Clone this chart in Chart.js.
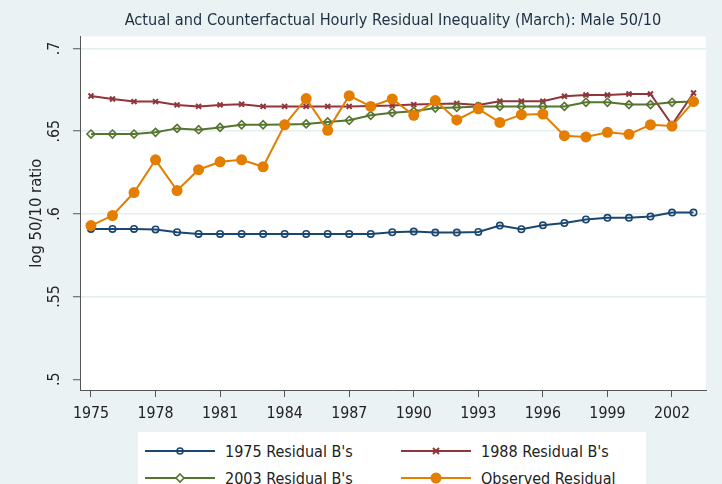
<!DOCTYPE html>
<html>
<head>
<meta charset="utf-8">
<script src="https://cdn.jsdelivr.net/npm/chart.js@4/dist/chart.umd.min.js"></script>
<style>
  html, body { margin: 0; padding: 0; background: #eaf2f3; }
  #wrap { position: relative; width: 722px; height: 484px; overflow: hidden; background: #eaf2f3; }
  #c { position: absolute; left: 0; top: 0; }
  #legend { position: absolute; left: 138px; top: 432px; width: 508px; height: 60px; background: #ffffff;
    font-family: 'Liberation Sans Narrow', 'DejaVu Sans Condensed', 'Arial Narrow', sans-serif; font-size: 16px; color: #222; }
  .item { position: absolute; height: 24px; display: flex; align-items: center; }
  .item svg { display: block; margin-right: 10px; }
</style>
</head>
<body>
<div id="wrap">
  <canvas id="c" width="722" height="484"></canvas>
  <div id="legend"></div>
</div>
<script>
// ---- data ----
const years = [1975,1976,1977,1978,1979,1980,1981,1982,1983,1984,1985,1986,1987,1988,1989,
               1990,1991,1992,1993,1994,1995,1996,1997,1998,1999,2000,2001,2002,2003];
const resid1975 = [0.5909,0.5909,0.5909,0.5906,0.5889,0.5879,0.5879,0.5879,0.5879,0.5879,0.5879,0.5879,0.5879,0.5879,0.5889,
                   0.5893,0.5887,0.5887,0.5891,0.5929,0.5907,0.5931,0.5945,0.5966,0.5976,0.5976,0.5984,0.6008,0.6008];
const resid1988 = [0.6713,0.6695,0.6679,0.6679,0.6659,0.6650,0.6659,0.6663,0.6650,0.6650,0.6650,0.6650,0.6650,0.6653,0.6655,
                   0.6661,0.6665,0.6668,0.6658,0.6681,0.6681,0.6681,0.6711,0.6719,0.6719,0.6725,0.6725,0.6539,0.6731];
const resid2003 = [0.6483,0.6483,0.6483,0.6493,0.6517,0.6509,0.6523,0.6539,0.6539,0.6541,0.6544,0.6556,0.6566,0.6596,0.6612,
                   0.6620,0.6640,0.6644,0.6650,0.6650,0.6650,0.6650,0.6650,0.6675,0.6675,0.6661,0.6661,0.6675,0.6679];
const observed  = [0.5929,0.5990,0.6129,0.6327,0.6141,0.6267,0.6315,0.6327,0.6285,0.6539,0.6697,0.6505,0.6715,0.6650,0.6695,
                   0.6596,0.6685,0.6568,0.6635,0.6553,0.6600,0.6604,0.6473,0.6465,0.6493,0.6481,0.6539,0.6531,0.6679];
const xTicks = [1975,1978,1981,1984,1987,1990,1993,1996,1999,2002];
const yTicks = [0.5,0.55,0.6,0.65,0.7];
const yTickLabels = ['.5','.55','.6','.65','.7'];
const seriesNames = ["1975 Residual B's","1988 Residual B's","2003 Residual B's","Observed Residual"];
const titleText = 'Actual and Counterfactual Hourly Residual Inequality (March): Male 50/10';
const yTitle = 'log 50/10 ratio';

const FONT = "'Liberation Sans Narrow', 'DejaVu Sans Condensed', 'Arial Narrow', sans-serif";
const NAVY = '#1a476f', MAROON = '#90353b', GREEN = '#55752f', ORANGE = '#e37e00';

const toPts = arr => years.map((y, i) => ({x: y, y: arr[i]}));

const plotBg = {
  id: 'plotBg',
  beforeDraw(chart) {
    const {ctx, chartArea: a} = chart;
    ctx.save();
    ctx.fillStyle = '#ffffff';
    ctx.fillRect(a.left, a.top, a.right - a.left, a.bottom - a.top);
    ctx.restore();
  }
};

const chart = new Chart(document.getElementById('c'), {
  type: 'line',
  data: {
    datasets: [
      { label: seriesNames[0], data: toPts(resid1975), borderColor: NAVY, borderWidth: 2,
        pointStyle: 'circle', pointRadius: 3.2, pointBorderWidth: 1.6, pointBorderColor: NAVY,
        pointBackgroundColor: 'rgba(255,255,255,0)', order: 3, tension: 0 },
      { label: seriesNames[1], data: toPts(resid1988), borderColor: MAROON, borderWidth: 2,
        pointStyle: 'crossRot', pointRadius: 3.5, pointBorderWidth: 2, pointBorderColor: MAROON,
        pointBackgroundColor: MAROON, order: 2, tension: 0 },
      { label: seriesNames[2], data: toPts(resid2003), borderColor: GREEN, borderWidth: 2,
        pointStyle: 'rectRot', pointRadius: 4, pointBorderWidth: 1.6, pointBorderColor: GREEN,
        pointBackgroundColor: 'rgba(255,255,255,0)', order: 1, tension: 0 },
      { label: seriesNames[3], data: toPts(observed), borderColor: ORANGE, borderWidth: 2,
        pointStyle: 'circle', pointRadius: 5.5, pointBorderWidth: 0, pointBorderColor: ORANGE,
        pointBackgroundColor: ORANGE, order: 0, tension: 0 }
    ]
  },
  options: {
    responsive: false,
    animation: false,
    layout: { padding: { left: 0, right: 16, top: 0, bottom: 64 } },
    plugins: {
      legend: { display: false },
      tooltip: { enabled: false },
      title: {
        display: true, text: titleText, fullSize: false, color: '#1f2f44',
        font: { family: FONT, size: 16.2, weight: 'normal' }, padding: { top: 11, bottom: 6 }
      }
    },
    scales: {
      x: {
        type: 'linear', min: 1974.49, max: 2003.58,
        afterBuildTicks(s) { s.ticks = xTicks.map(v => ({value: v})); },
        afterFit(s) { s.height = 30; },
        ticks: { color: '#222', font: { family: FONT, size: 15.8 }, padding: 7, maxRotation: 0, autoSkip: false,
                 callback: v => String(v) },
        grid: { drawOnChartArea: false, drawTicks: true, tickLength: 7, tickColor: '#555', tickWidth: 1 },
        border: { color: '#555', width: 1 }
      },
      y: {
        type: 'linear', min: 0.4935, max: 0.7073,
        afterBuildTicks(s) { s.ticks = yTicks.map(v => ({value: v})); },
        afterFit(s) { s.width = 80; },
        ticks: { color: '#222', font: { family: FONT, size: 15.8 }, padding: 7, minRotation: 90, maxRotation: 90,
                 crossAlign: 'center', autoSkip: false,
                 callback: (v) => { const i = yTicks.findIndex(t => Math.abs(t - v) < 1e-9); return i >= 0 ? yTickLabels[i] : ''; } },
        grid: { color: (c) => (c.tick && Math.abs(c.tick.value - 0.5) < 1e-9) ? 'rgba(0,0,0,0)' : '#e4edf0',
                lineWidth: 1.5, drawTicks: true, tickLength: 7, tickColor: '#555', tickWidth: 1 },
        border: { color: '#555', width: 1 },
        title: { display: true, text: yTitle, color: '#222', font: { family: FONT, size: 16.5 }, padding: { top: 27, bottom: 0 } }
      }
    }
  },
  plugins: [plotBg]
});

// ---- legend (HTML) ----
const legendSpecs = [
  { name: seriesNames[0], color: NAVY, marker: 'circleHollow', left: 7, top: 7 },
  { name: seriesNames[1], color: MAROON, marker: 'cross', left: 263, top: 7 },
  { name: seriesNames[2], color: GREEN, marker: 'diamond', left: 7, top: 34 },
  { name: seriesNames[3], color: ORANGE, marker: 'dot', left: 263, top: 34 }
];
function markerSvg(kind, color) {
  const line = `<line x1="0" y1="10" x2="70" y2="10" stroke="${color}" stroke-width="2"/>`;
  let m = '';
  if (kind === 'circleHollow') m = `<circle cx="35" cy="10" r="3" fill="none" stroke="${color}" stroke-width="1.6"/>`;
  if (kind === 'cross') m = `<path d="M32 7 L38 13 M38 7 L32 13" stroke="${color}" stroke-width="2"/>`;
  if (kind === 'diamond') m = `<path d="M35 6 L39 10 L35 14 L31 10 Z" fill="#fff" stroke="${color}" stroke-width="1.6"/>`;
  if (kind === 'dot') m = `<circle cx="35" cy="10" r="5.5" fill="${color}"/>`;
  return `<svg width="70" height="20" viewBox="0 0 70 20">${line}${m}</svg>`;
}
const lg = document.getElementById('legend');
legendSpecs.forEach(s => {
  const d = document.createElement('div');
  d.className = 'item';
  d.style.left = s.left + 'px';
  d.style.top = s.top + 'px';
  d.innerHTML = markerSvg(s.marker, s.color) + `<span>${s.name}</span>`;
  lg.appendChild(d);
});
</script>
</body>
</html>
